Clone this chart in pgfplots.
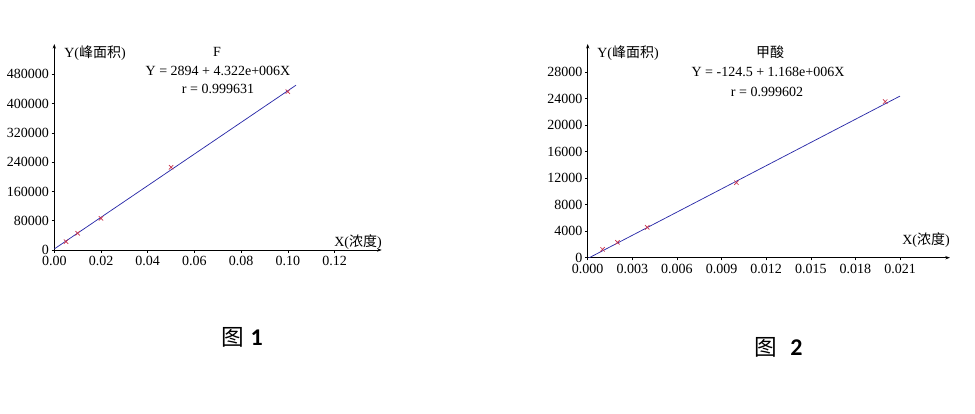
\documentclass[border=0pt]{standalone}
\usepackage{fontspec}
\setmainfont{Liberation Serif}
\newfontfamily\cjk{Noto Sans CJK SC}
\newfontfamily\cali{Carlito}
\usepackage{pgfplots}
\pgfplotsset{compat=1.18}
\usetikzlibrary{arrows.meta}

\definecolor{fitblue}{HTML}{2A2AA8}
\definecolor{markred}{HTML}{C8304A}

% positions are reference pixels times 0.75pt, y measured from the bottom
\pgfplotsset{
  cal/.style={
    scale only axis,
    anchor=origin,
    axis lines=left,
    enlargelimits=false,
    axis line style={line width=0.5pt, -{Stealth[length=3.5pt,width=2.5pt]}},
    tick align=outside,
    major tick length=2pt,
    tick style={line width=0.4pt, black},
    xmin=0, ymin=0,
    ticklabel style={font=\fontsize{10.5}{12}\selectfont},
    /pgf/number format/assume math mode=true,
    scaled ticks=false,
    yticklabel style={xshift=1.5pt, /pgf/number format/fixed, /pgf/number format/1000 sep={}},
    xticklabel style={yshift=1pt, /pgf/number format/fixed, /pgf/number format/fixed zerofill},
  },
  fit/.style={fitblue, line width=0.55pt, no marks},
  pts/.style={only marks, mark=x, mark size=2.3pt, markred, mark options={line width=0.5pt}},
}

\begin{document}
\begin{tikzpicture}
\path[use as bounding box] (0,0) rectangle (731.25pt,310.5pt);

% ---- chart 1: F
\begin{axis}[cal,
  at={(40.725pt,123pt)},
  width=245.55pt, height=154.5pt,
  xmax=0.1402, ymax=562800,
  xtick={0,0.02,...,0.12},
  ytick={0,80000,...,480000},
  xticklabel style={/pgf/number format/precision=2},
]
\addplot[fit] coordinates {(0,2894) (0.1035,450221)};
\addplot[pts] coordinates {(0.005,22700) (0.01,45600) (0.02,86600) (0.05,226000) (0.1,432500)};
\end{axis}

% ---- chart 2: formic acid
\begin{axis}[cal,
  at={(440.775pt,117.225pt)},
  width=271.7pt, height=160.3pt,
  xmax=0.02436, ymax=32274,
  xtick={0,0.003,...,0.0215},
  ytick={0,4000,...,28000},
  xticklabel style={/pgf/number format/precision=3},
]
\addplot[fit] coordinates {(0,-124.5) (0.021,24403)};
\addplot[pts] coordinates {(0.001,1260) (0.002,2320) (0.004,4580) (0.01,11330) (0.02,23570)};
\end{axis}

\begin{scope}[every node/.style={font=\fontsize{10.5}{12}\selectfont, inner sep=0pt}]
% chart 1 texts
\node[anchor=west] at (48pt,270.975pt) {Y({\cjk 峰面积})};
\node at (162.75pt,271.725pt) {F};
\node at (163.5pt,257.475pt) {Y = 2894 + 4.322e+006X};
\node at (163.5pt,243.525pt) {r = 0.999631};
\node[anchor=east] at (286.5pt,129.225pt) {X({\cjk 浓度})};
% chart 2 texts
\node[anchor=west] at (447.75pt,270.975pt) {Y({\cjk 峰面积})};
\node at (577.5pt,270.975pt) {\cjk 甲酸};
\node at (576pt,256.275pt) {Y = -124.5 + 1.168e+006X};
\node at (575.25pt,241.725pt) {r = 0.999602};
\node[anchor=east] at (712.5pt,130.725pt) {X({\cjk 浓度})};
\end{scope}

% captions
\node[anchor=west, inner sep=0pt] at (165.75pt,57.75pt) {{\fontsize{17}{20}\selectfont\cjk 图}\hspace{5pt}{\fontsize{18}{20}\selectfont\cali\bfseries 1}};
\node[anchor=west, inner sep=0pt] at (565.5pt,50.25pt) {{\fontsize{17}{20}\selectfont\cjk 图}\hspace{10pt}{\fontsize{18}{20}\selectfont\cali\bfseries 2}};
\end{tikzpicture}
\end{document}
